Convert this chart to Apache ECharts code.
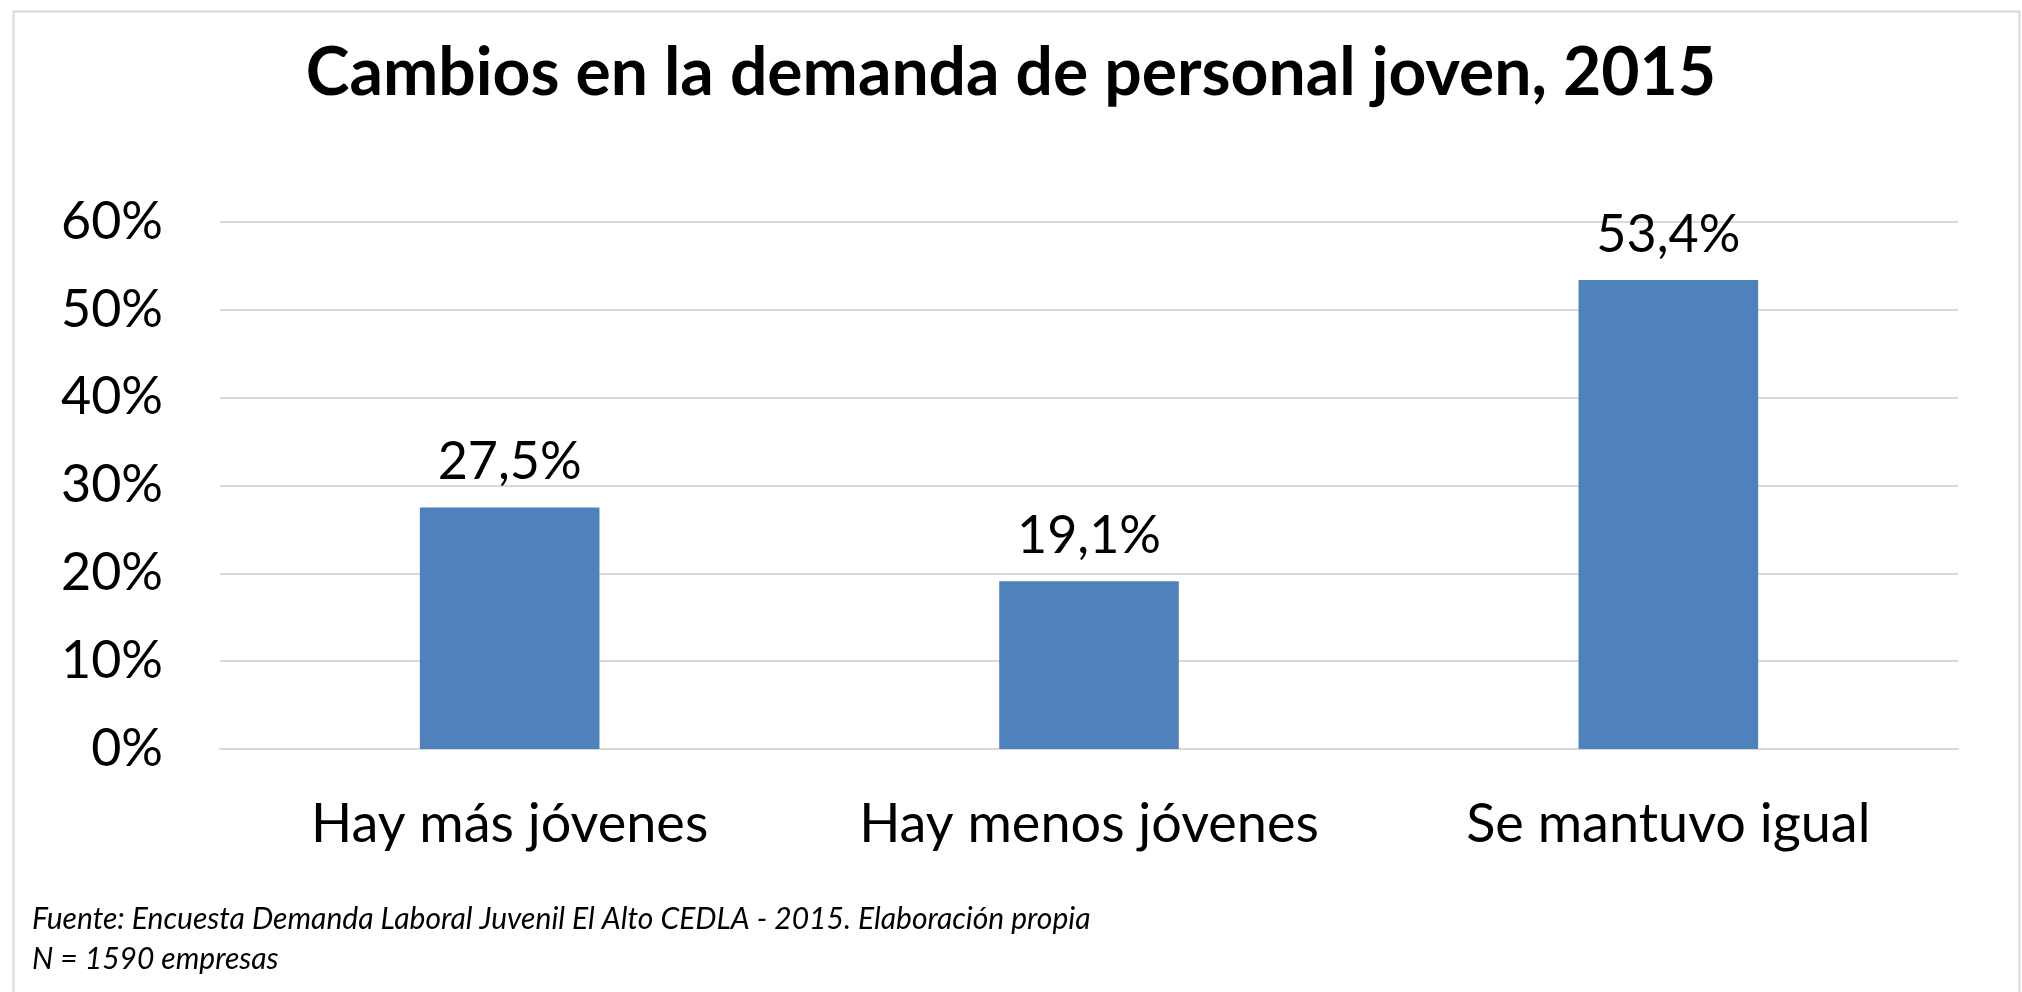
<!DOCTYPE html>
<html>
<head>
<meta charset="utf-8">
<title>Cambios en la demanda de personal joven, 2015</title>
<script src="https://cdn.jsdelivr.net/npm/echarts@6/dist/echarts.min.js"></script>
<style>
  html, body { margin: 0; padding: 0; background: #fff; }
  #chart { width: 2022px; height: 992px; }
</style>
</head>
<body>
<div id="chart"></div>
<script>
// datos
const categories = ['Hay más jóvenes', 'Hay menos jóvenes', 'Se mantuvo igual'];
const values = [27.5, 19.1, 53.4];
const yTicks = [0, 10, 20, 30, 40, 50, 60];
const titleText = 'Cambios en la demanda de personal joven, 2015';
const footerLines = [
  'Fuente: Encuesta Demanda Laboral Juvenil El Alto CEDLA - 2015. Elaboración propia',
  'N = 1590 empresas'
];

const FONT = 'Lato, "Open Sans", sans-serif';
const chart = echarts.init(document.getElementById('chart'));

const option = {
  backgroundColor: '#ffffff',
  animation: false,
  title: {
    text: titleText,
    left: 'center',
    top: 30,
    textStyle: {
      fontFamily: FONT,
      fontWeight: 'bold',
      fontSize: 66,
      lineHeight: 78,
      color: '#000'
    }
  },
  grid: {
    left: 220,
    right: 64,
    top: 222,
    bottom: 243
  },
  xAxis: {
    type: 'category',
    data: categories,
    axisLine: { show: true, lineStyle: { color: '#d9d9d9', width: 2 } },
    axisTick: { show: false },
    axisLabel: {
      interval: 0,
      margin: 44,
      fontFamily: FONT,
      fontSize: 54,
      lineHeight: 64,
      color: '#000'
    }
  },
  yAxis: {
    type: 'value',
    min: yTicks[0],
    max: yTicks[yTicks.length - 1],
    interval: 10,
    axisLine: { show: false },
    axisTick: { show: false },
    splitLine: { lineStyle: { color: '#d9d9d9', width: 2 } },
    axisLabel: {
      margin: 57,
      fontFamily: FONT,
      fontSize: 52,
      color: '#000',
      formatter: '{value}%'
    }
  },
  series: [
    {
      type: 'bar',
      data: values,
      barWidth: '31%',
      itemStyle: { color: '#4f81bd' },
      label: {
        show: true,
        position: 'top',
        distance: 14,
        fontFamily: FONT,
        fontSize: 52,
        lineHeight: 62,
        color: '#000',
        formatter: p => p.value.toFixed(1).replace('.', ',') + '%'
      }
    }
  ],
  graphic: [
    {
      type: 'rect',
      left: 11,
      top: 9,
      shape: { width: 2006, height: 1000 },
      style: { fill: 'none', stroke: '#d9d9d9', lineWidth: 2 },
      silent: true
    },
    {
      type: 'text',
      left: 32,
      top: 899,
      style: {
        text: footerLines.join('\n'),
        font: 'italic 30px ' + FONT,
        lineHeight: 40,
        fill: '#000'
      }
    }
  ]
};

chart.setOption(option);
window.addEventListener('resize', () => chart.resize());
</script>
</body>
</html>
